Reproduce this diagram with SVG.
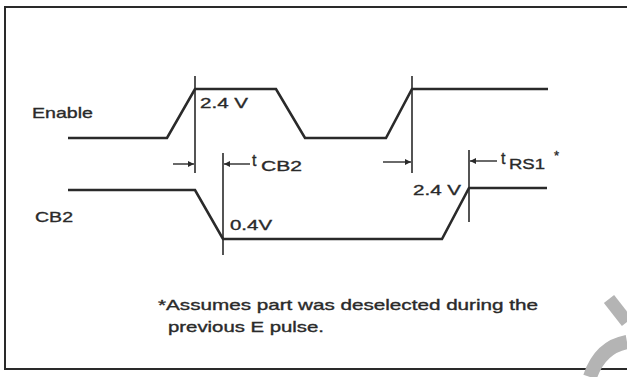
<svg xmlns="http://www.w3.org/2000/svg" width="627" height="377" viewBox="0 0 627 377">
  <defs>
    <style>
      .wave { fill: none; stroke: #2a2a2a; stroke-width: 2.6; stroke-linejoin: miter; }
      .mark { fill: none; stroke: #2a2a2a; stroke-width: 1.6; }
      .border { fill: none; stroke: #2a2a2a; stroke-width: 2; }
      .dim { fill: none; stroke: #2a2a2a; stroke-width: 1.4; marker-end: url(#ah); }
      text { font-family: "Liberation Sans", Arial, sans-serif; fill: #2a2a2a; stroke: #2a2a2a; stroke-width: 0.35; }
      .lbl { font-size: 15px; }
      .sub { font-size: 16px; }
      .star { font-size: 13px; }
      .note { font-size: 14.5px; }
    </style>
    <marker id="ah" viewBox="0 0 10 10" refX="10" refY="5" markerWidth="9" markerHeight="6" markerUnits="userSpaceOnUse" orient="auto">
      <path d="M0,0 L10,5 L0,10 Z" fill="#2a2a2a"/>
    </marker>
  </defs>
  <rect width="627" height="377" fill="#ffffff"/>

  <g id="frame">
    <path class="border" d="M627,7 L5,7 L5,369 L627,369"/>
  </g>

  <g id="watermark" fill="none" stroke="#b4b4b4">
    <path d="M609,299 L627,322" stroke-width="13"/>
    <path d="M590,377 Q600,347 627,342" stroke-width="14"/>
  </g>

  <g id="enable">
    <text class="lbl" x="32" y="118" textLength="61" lengthAdjust="spacingAndGlyphs">Enable</text>
    <path class="wave" d="M68,138 L167,138 L195,89 L276,89 L305,138 L386,138 L412,89 L548,89"/>
    <text class="lbl" x="200" y="108" textLength="48" lengthAdjust="spacingAndGlyphs">2.4 V</text>
  </g>

  <g id="cb2">
    <text class="lbl" x="35" y="222" textLength="38" lengthAdjust="spacingAndGlyphs">CB2</text>
    <path class="wave" d="M68,190 L195,190 L223,239 L442,239 L469,188 L547,188"/>
    <text class="lbl" x="230" y="230" textLength="42" lengthAdjust="spacingAndGlyphs">0.4V</text>
    <text class="lbl" x="413" y="195" textLength="48" lengthAdjust="spacingAndGlyphs">2.4 V</text>
  </g>

  <g id="connectors">
    <path class="mark" d="M195,76 L195,173"/>
    <path class="mark" d="M223,153 L223,255"/>
    <path class="mark" d="M412,76 L412,173"/>
    <path class="mark" d="M469,150 L469,222"/>
    <path class="dim" d="M173,164 L194,164"/>
    <path class="dim" d="M250,164 L224,164"/>
    <path class="dim" d="M383,162 L411,162"/>
    <path class="dim" d="M497,161 L470,161"/>
  </g>

  <g id="tcb2">
    <text class="sub" x="252" y="166">t</text>
    <text class="lbl" x="261" y="171" textLength="41" lengthAdjust="spacingAndGlyphs">CB2</text>
  </g>

  <g id="trs1">
    <text class="sub" x="501" y="164">t</text>
    <text class="lbl" x="509" y="169" textLength="36" lengthAdjust="spacingAndGlyphs">RS1</text>
    <text class="star" x="554" y="160">*</text>
  </g>

  <g id="footnote">
    <text class="note" x="158" y="310" textLength="380" lengthAdjust="spacingAndGlyphs">*Assumes part was deselected during the</text>
    <text class="note" x="168" y="332" textLength="156" lengthAdjust="spacingAndGlyphs">previous E pulse.</text>
  </g>
</svg>
